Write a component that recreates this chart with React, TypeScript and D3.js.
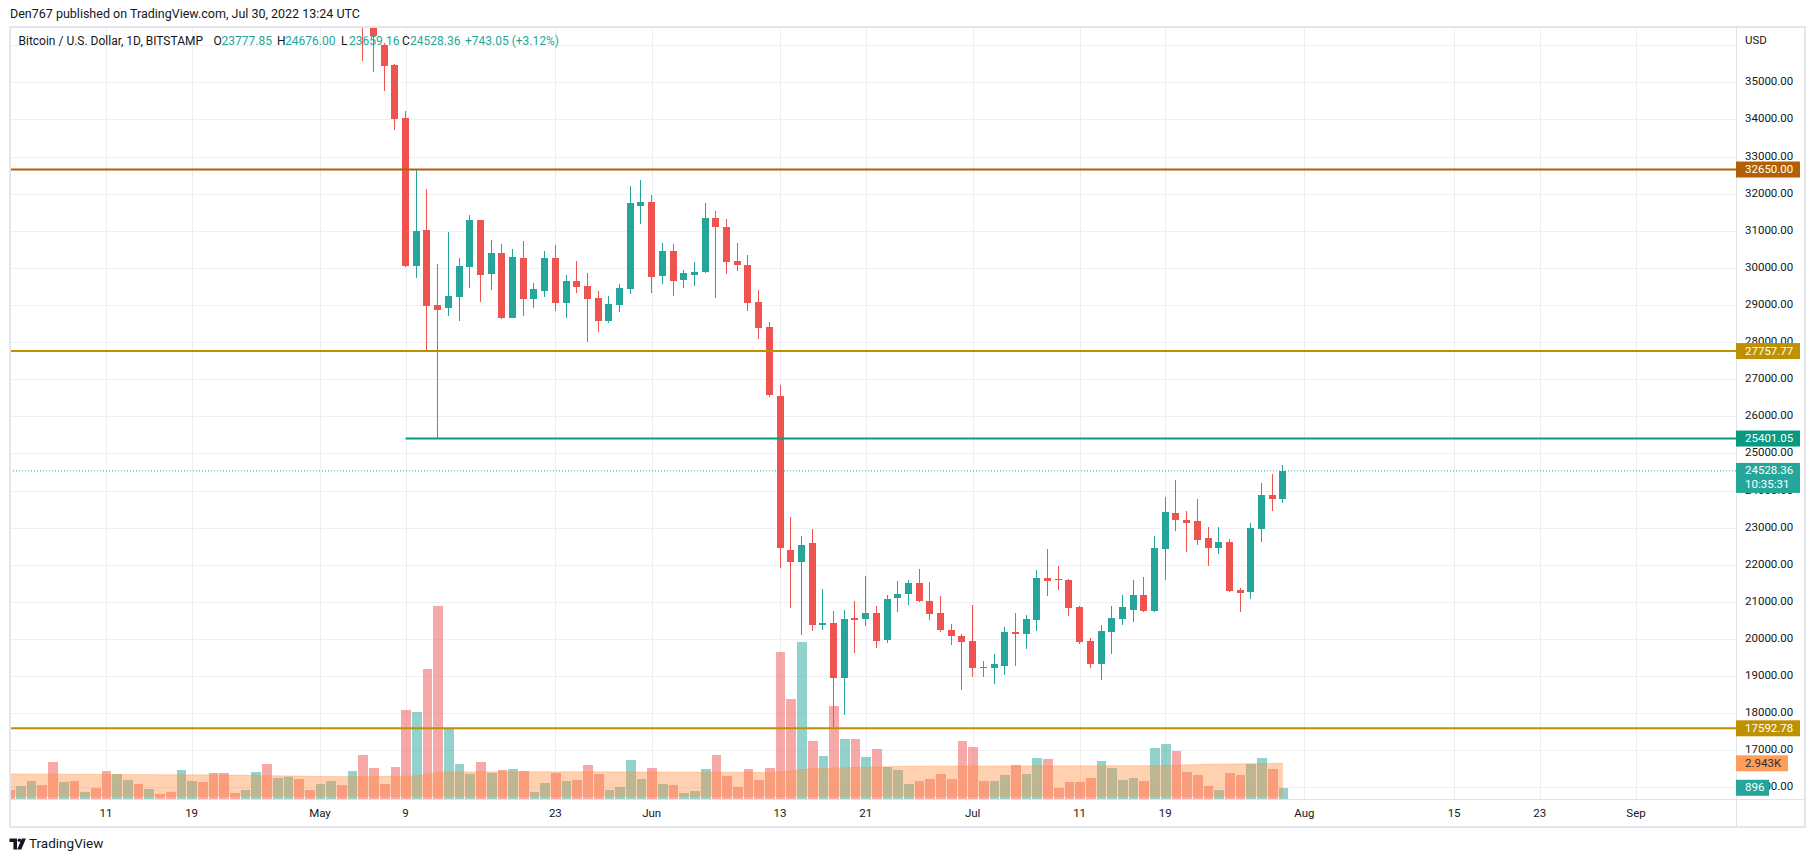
import React, { useEffect } from "react";
import * as d3 from "d3";

// ---- texts ----
const title = "Den767 published on TradingView.com, Jul 30, 2022 13:24 UTC";
const symbolName = "Bitcoin / U.S. Dollar, 1D, BITSTAMP";
const legendLetters = ["O", "H", "L", "C"];
const legendValues = ["23777.85", "24676.00", "23659.16", "24528.36"];
const legendChange = "+743.05 (+3.12%)";
const countdown = "10:35:31";
const volumeMALabel = "2.943K";

// ---- daily candles: date, open, high, low, close ----
const candles: [string, number, number, number, number][] = [
  ["2022-05-05", 39700, 39850, 35573, 36580],
  ["2022-05-06", 36580, 36700, 35277, 36240],
  ["2022-05-07", 35997, 36050, 34765, 35439],
  ["2022-05-08", 35458, 35503, 33725, 34021],
  ["2022-05-09", 34048, 34218, 30021, 30048],
  ["2022-05-10", 30048, 32628, 29724, 30983],
  ["2022-05-11", 31010, 32134, 27775, 28970],
  ["2022-05-12", 28988, 30094, 25401.05, 28854],
  ["2022-05-13", 28916, 30964, 28711, 29231],
  ["2022-05-14", 29213, 30274, 28566, 30040],
  ["2022-05-15", 30021, 31415, 29455, 31280],
  ["2022-05-16", 31280, 31280, 29077, 29805],
  ["2022-05-17", 29832, 30741, 29410, 30409],
  ["2022-05-18", 30409, 30652, 28611, 28646],
  ["2022-05-19", 28646, 30498, 28646, 30282],
  ["2022-05-20", 30256, 30714, 28700, 29159],
  ["2022-05-21", 29159, 29600, 28916, 29420],
  ["2022-05-22", 29375, 30444, 29213, 30256],
  ["2022-05-23", 30256, 30624, 28835, 29051],
  ["2022-05-24", 29051, 29797, 28646, 29635],
  ["2022-05-25", 29635, 30174, 29320, 29482],
  ["2022-05-26", 29500, 29851, 28000, 29159],
  ["2022-05-27", 29177, 29366, 28269, 28566],
  ["2022-05-28", 28566, 29231, 28511, 29015],
  ["2022-05-29", 28997, 29554, 28808, 29447],
  ["2022-05-30", 29428, 32196, 29303, 31738],
  ["2022-05-31", 31665, 32358, 31172, 31765],
  ["2022-06-01", 31765, 31954, 29320, 29751],
  ["2022-06-02", 29778, 30679, 29563, 30444],
  ["2022-06-03", 30444, 30652, 29239, 29644],
  ["2022-06-04", 29671, 29932, 29455, 29851],
  ["2022-06-05", 29805, 30148, 29509, 29878],
  ["2022-06-06", 29886, 31738, 29859, 31334],
  ["2022-06-07", 31334, 31522, 29185, 31099],
  ["2022-06-08", 31091, 31307, 29832, 30156],
  ["2022-06-09", 30174, 30660, 29913, 30075],
  ["2022-06-10", 30067, 30336, 28835, 29051],
  ["2022-06-11", 29069, 29393, 28080, 28377],
  ["2022-06-12", 28395, 28538, 26516, 26570],
  ["2022-06-13", 26544, 26832, 21907, 22446],
  ["2022-06-14", 22392, 23300, 20829, 22068],
  ["2022-06-15", 22068, 22762, 20101, 22545],
  ["2022-06-16", 22573, 22950, 20209, 20371],
  ["2022-06-17", 20371, 21333, 20236, 20443],
  ["2022-06-18", 20443, 20767, 17592.78, 18941],
  ["2022-06-19", 18941, 20794, 17944, 20551],
  ["2022-06-20", 20560, 21036, 19616, 20524],
  ["2022-06-21", 20533, 21710, 20344, 20713],
  ["2022-06-22", 20713, 20875, 19750, 19939],
  ["2022-06-23", 19966, 21198, 19885, 21090],
  ["2022-06-24", 21100, 21549, 20721, 21225],
  ["2022-06-25", 21207, 21576, 20910, 21495],
  ["2022-06-26", 21495, 21872, 20991, 21018],
  ["2022-06-27", 21036, 21522, 20505, 20686],
  ["2022-06-28", 20713, 21171, 20182, 20236],
  ["2022-06-29", 20255, 20390, 19831, 20074],
  ["2022-06-30", 20093, 20147, 18618, 19913],
  ["2022-07-01", 19958, 20902, 18970, 19211],
  ["2022-07-02", 19257, 19419, 18970, 19211],
  ["2022-07-03", 19211, 19608, 18780, 19312],
  ["2022-07-04", 19283, 20335, 19041, 20200],
  ["2022-07-05", 20200, 20713, 19284, 20146],
  ["2022-07-06", 20146, 20659, 19742, 20551],
  ["2022-07-07", 20524, 21845, 20228, 21656],
  ["2022-07-08", 21630, 22411, 21171, 21549],
  ["2022-07-09", 21603, 21953, 21306, 21576],
  ["2022-07-10", 21576, 21603, 20632, 20821],
  ["2022-07-11", 20848, 20875, 19877, 19931],
  ["2022-07-12", 19958, 20039, 19231, 19312],
  ["2022-07-13", 19312, 20363, 18888, 20228],
  ["2022-07-14", 20200, 20875, 19607, 20578],
  ["2022-07-15", 20551, 21198, 20363, 20848],
  ["2022-07-16", 20794, 21576, 20470, 21198],
  ["2022-07-17", 21198, 21657, 20740, 20767],
  ["2022-07-18", 20767, 22762, 20740, 22438],
  ["2022-07-19", 22419, 23813, 21576, 23408],
  ["2022-07-20", 23381, 24271, 22904, 23201],
  ["2022-07-21", 23219, 23435, 22339, 23138],
  ["2022-07-22", 23166, 23759, 22519, 22662],
  ["2022-07-23", 22708, 23004, 21961, 22447],
  ["2022-07-24", 22447, 23004, 22284, 22600],
  ["2022-07-25", 22600, 22681, 21260, 21287],
  ["2022-07-26", 21306, 21360, 20721, 21234],
  ["2022-07-27", 21261, 23112, 21072, 22977],
  ["2022-07-28", 22958, 24191, 22607, 23867],
  ["2022-07-29", 23867, 24434, 23444, 23768],
  ["2022-07-30", 23777.85, 24676, 23659.16, 24528.36],
];

// ---- daily volume from 2022-04-02 ----
const volumeStart = "2022-04-02";
const volumes = [
  // Apr 2 - Apr 30
  710, 1050, 1460, 1130, 3050, 1380, 1460, 540, 880, 2300,
  2050, 1550, 1210, 790, 380, 540, 2380, 1460, 1380, 2130,
  2130, 460, 710, 2220, 2890, 1710, 1800, 1630, 710,
  // May
  1210, 1460, 1130, 2300, 3640, 2550, 1210, 2630, 7400, 7200,
  10800, 16100, 5800, 2880, 2050, 3050, 2130, 2400, 2470, 2300,
  540, 1300, 2130, 1460, 1550, 2800, 2050, 710, 960, 3220, 1630,
  // Jun
  2550, 1210, 1130, 460, 630, 2470, 3640, 1880, 960, 2470,
  1550, 2550, 12250, 8320, 13100, 4800, 3550, 7700, 4970, 4970,
  3470, 4140, 2630, 2380, 1210, 1460, 1630, 2050, 1630, 4800,
  // Jul
  4300, 1460, 1460, 1970, 2800, 2050, 3390, 3300, 880, 1380,
  1380, 1710, 3140, 2550, 1550, 1710, 1460, 4220, 4560, 3970,
  2220, 1970, 1050, 710, 2130, 1970, 2890, 3390, 2470, 896,
];
// bar colour of the days whose candles sit above the visible range (Apr 2 - May 4), 1 = up
const earlyVolumeUp = [
  0, 1, 1, 0, 0, 1, 0, 1, 0, 0, 1, 1, 0, 1, 0, 0, 1,
  1, 0, 0, 0, 0, 1, 1, 0, 1, 1, 0, 0, 1, 1, 0, 1,
];
// volume moving average, read at a few dates
const volumeMA: [string, number][] = [
  ["2022-04-02", 2050],
  ["2022-04-22", 1960],
  ["2022-05-03", 1820],
  ["2022-05-10", 1880],
  ["2022-05-12", 2200],
  ["2022-05-20", 2240],
  ["2022-06-08", 2200],
  ["2022-06-12", 2160],
  ["2022-06-16", 2500],
  ["2022-06-25", 2700],
  ["2022-07-18", 2740],
  ["2022-07-23", 2860],
  ["2022-07-30", 2943],
];

// ---- axes ----
const priceTicks = [16000, 17000, 18000, 19000, 20000, 21000, 22000, 23000, 24000, 25000,
  26000, 27000, 28000, 29000, 30000, 31000, 32000, 33000, 34000, 35000];
const gridPrices = [...priceTicks, 36000];
const timeTicks = ["2022-04-11", "2022-04-19", "2022-05-01", "2022-05-09", "2022-05-23", "2022-06-01",
  "2022-06-13", "2022-06-21", "2022-07-01", "2022-07-11", "2022-07-19", "2022-08-01", "2022-08-15",
  "2022-08-23", "2022-09-01"];

// horizontal levels drawn by the author
const levelPrices = [32650, 27757.77, 25401.05, 17592.78];
const levelStarts: (string | null)[] = [null, null, "2022-05-09", null];

const UP = "#26a69a";
const DOWN = "#ef5350";
const levelColors = ["#b45f06", "#bf9000", "#089981", "#bf9000"];
const FONT = "Roboto, 'Liberation Sans', sans-serif";

const parse = d3.utcParse("%Y-%m-%d");

export default function App() {
  useEffect(() => {
    document.body.style.margin = "0";
  }, []);

  // pane geometry
  const left = 10, top = 27, right = 1736, bottom = 799, frameR = 1805, frameB = 827;

  const x = d3.scaleUtc()
    .domain([parse("2022-04-11")!, parse("2022-09-01")!])
    .range([106, 1636]);
  const y = d3.scaleLinear().domain([35000, 26000]).range([82.3, 416.3]);
  const vy = d3.scaleLinear().domain([0, 2943]).range([798.5, 763.3]);

  const candleByDate = new Map(candles.map(c => [c[0], c]));
  const fmt = d3.utcFormat("%Y-%m-%d");
  const vStart = parse(volumeStart)!;

  const volBars = volumes.map((v, i) => {
    const date = d3.utcDay.offset(vStart, i);
    const c = candleByDate.get(fmt(date));
    const up = c ? c[4] >= c[1] : earlyVolumeUp[i] === 1;
    const cx = x(date);
    const l = Math.round(cx - 5.35) + 1;
    const r = Math.round(cx + 5.35);
    return { l, w: r - l, top: vy(v), up, key: i };
  });

  const maArea = d3.area<[string, number]>()
    .x(d => x(parse(d[0])!))
    .y0(vy(0) - 1.5)
    .y1(d => vy(d[1]));
  const maLine = d3.line<[string, number]>()
    .x(d => x(parse(d[0])!))
    .y(d => vy(d[1]));

  const last = candles[candles.length - 1];
  const lastPrice = last[4];
  const lastVolume = volumes[volumes.length - 1];
  const lastMA = volumeMA[volumeMA.length - 1][1];

  const tickLabel = (s: string) => {
    const d = parse(s)!;
    return d.getUTCDate() === 1 ? d3.utcFormat("%b")(d) : String(d.getUTCDate());
  };

  const legendX = [213.5, 277, 341, 402];

  return (
    <div style={{ position: "absolute", left: 0, top: 0, width: 1815, height: 862, background: "#fff" }}>
      <svg width={1815} height={862} style={{ display: "block", fontFamily: FONT }}>
        <defs>
          <clipPath id="pane">
            <rect x={left} y={top} width={right - left} height={bottom - top} />
          </clipPath>
        </defs>
        <rect width={1815} height={862} fill="#fff" />

        {/* header */}
        <text x={10} y={15} dominantBaseline="middle" fontSize={12.5} fill="#131722">{title}</text>

        {/* grid */}
        <g clipPath="url(#pane)" shapeRendering="crispEdges">
          {gridPrices.map(p => (
            <line key={p} x1={left} x2={right} y1={Math.round(y(p)) + 0.5} y2={Math.round(y(p)) + 0.5} stroke="#eef0f3" />
          ))}
          {timeTicks.map(t => {
            const xx = Math.round(x(parse(t)!)) + 0.5;
            return <line key={t} x1={xx} x2={xx} y1={top} y2={bottom} stroke="#eceef1" />;
          })}
        </g>

        {/* legend */}
        <g fontSize={12} dominantBaseline="middle">
          <text x={18.5} y={41.7} fill="#131722">{symbolName}</text>
          {legendLetters.map((l, i) => (
            <g key={l}>
              <text x={legendX[i]} y={41.7} fill="#131722">{l}</text>
              <text x={legendX[i] + 8} y={41.7} fill={UP}>{legendValues[i]}</text>
            </g>
          ))}
          <text x={465} y={41.7} fill={UP}>{legendChange}</text>
        </g>

        <g clipPath="url(#pane)">
          {/* volume */}
          <g shapeRendering="crispEdges">
            {volBars.map(b => (
              <rect key={b.key} x={b.l} y={b.top} width={b.w} height={vy(0) - b.top}
                fill={b.up ? "rgba(38,166,154,0.5)" : "rgba(239,83,80,0.5)"} />
            ))}
          </g>
          <path d={maArea(volumeMA) ?? ""} fill="rgba(255,140,60,0.4)" />
          <path d={maLine(volumeMA) ?? ""} fill="none" stroke="rgba(255,140,60,0.35)" strokeWidth={1} />

          {/* candles */}
          <g shapeRendering="crispEdges">
            {candles.map(([d, o, h, l, c]) => {
              const cx = x(parse(d)!);
              const bx = Math.round(cx - 3.5);
              const col = c >= o ? UP : DOWN;
              const yt = Math.min(y(o), y(c));
              const bh = Math.max(1, Math.abs(y(o) - y(c)));
              return (
                <g key={d} fill={col}>
                  <rect x={bx + 3} y={y(h)} width={1} height={y(l) - y(h)} />
                  <rect x={bx} y={yt} width={7} height={bh} />
                </g>
              );
            })}
          </g>

          {/* last price line */}
          <line x1={left} x2={right} y1={y(lastPrice)} y2={y(lastPrice)} stroke={UP} strokeWidth={1} strokeDasharray="1 2" />

          {/* levels */}
          {levelPrices.map((p, i) => (
            <line key={p}
              x1={levelStarts[i] ? x(parse(levelStarts[i]!)!) : left} x2={right}
              y1={y(p)} y2={y(p)} stroke={levelColors[i]} strokeWidth={2} />
          ))}
        </g>

        {/* frame */}
        <g shapeRendering="crispEdges" fill="none">
          <rect x={left - 0.5} y={top - 0.5} width={frameR - left} height={frameB - top} stroke="#e4e6eb" strokeWidth={2} />
          <line x1={right + 0.5} x2={right + 0.5} y1={top} y2={frameB} stroke="#e0e3eb" />
          <line x1={left} x2={frameR} y1={bottom + 0.5} y2={bottom + 0.5} stroke="#e0e3eb" />
        </g>

        {/* price axis */}
        <g fontSize={11.5} dominantBaseline="middle" fill="#131722">
          <text x={1745} y={40.5}>USD</text>
          {priceTicks.map(p => (
            <text key={p} x={1745} y={y(p)}>{d3.format(".2f")(p)}</text>
          ))}
        </g>

        {/* price axis labels */}
        <g fontSize={11.5} dominantBaseline="middle">
          {levelPrices.map((p, i) => (
            <g key={p}>
              <rect x={1736} y={y(p) - 8} width={64} height={16} fill={levelColors[i]} />
              <text x={1745} y={y(p) + 0.5} fill="#fff">{d3.format(".2f")(p)}</text>
            </g>
          ))}
          <rect x={1736} y={y(lastPrice) - 8} width={64} height={30} fill={UP} />
          <text x={1745} y={y(lastPrice) + 0.5} fill="#fff">{d3.format(".2f")(lastPrice)}</text>
          <text x={1745} y={y(lastPrice) + 14.5} fill="#fff">{countdown}</text>
          <rect x={1736} y={vy(lastMA) - 8} width={52} height={16} fill="#ff9d5c" />
          <text x={1745} y={vy(lastMA) + 0.5} fill="#2a2e39">{volumeMALabel}</text>
          <rect x={1736} y={vy(lastVolume) - 8} width={33} height={16} fill={UP} />
          <text x={1745} y={vy(lastVolume) + 0.5} fill="#fff">{lastVolume}</text>
        </g>

        {/* time axis */}
        <g fontSize={11.5} dominantBaseline="middle" textAnchor="middle" fill="#131722">
          {timeTicks.map(t => (
            <text key={t} x={x(parse(t)!)} y={813.5}>{tickLabel(t)}</text>
          ))}
        </g>

        {/* footer logo */}
        <g fill="#131722">
          <path d="M9.5 838.5h7.5v11h-3.6v-7.4h-3.9z" />
          <circle cx={19.4} cy={840.3} r={1.8} />
          <path d="M21.8 838.5h4.1l-4.6 11h-4.1z" />
          <text x={29} y={844.5} fontSize={13.5} dominantBaseline="middle">TradingView</text>
        </g>
      </svg>
    </div>
  );
}
